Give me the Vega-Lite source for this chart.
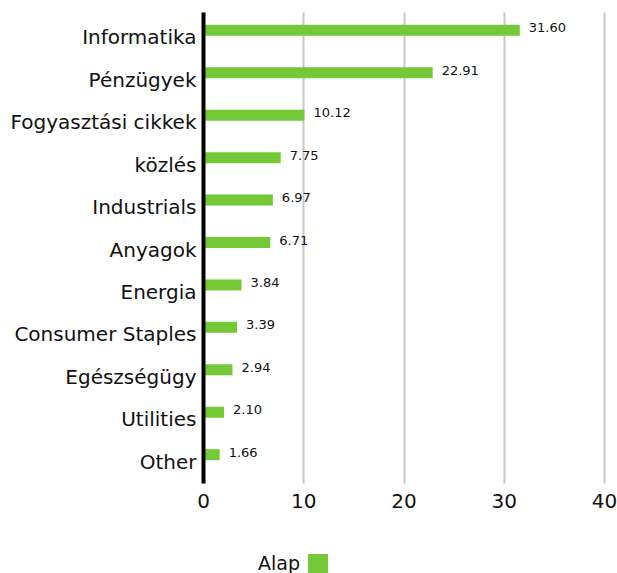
{
  "$schema": "https://vega.github.io/schema/vega-lite/v6.json",
  "autosize": "none",
  "width": 401,
  "height": 471,
  "padding": {"left": 203, "top": 12, "right": 13, "bottom": 90},
  "background": "white",
  "config": {
    "view": {"stroke": null},
    "font": "DejaVu Sans"
  },
  "data": {
    "values": [
      {"sector": "Informatika", "value": 31.60},
      {"sector": "Pénzügyek", "value": 22.91},
      {"sector": "Fogyasztási cikkek", "value": 10.12},
      {"sector": "közlés", "value": 7.75},
      {"sector": "Industrials", "value": 6.97},
      {"sector": "Anyagok", "value": 6.71},
      {"sector": "Energia", "value": 3.84},
      {"sector": "Consumer Staples", "value": 3.39},
      {"sector": "Egészségügy", "value": 2.94},
      {"sector": "Utilities", "value": 2.10},
      {"sector": "Other", "value": 1.66}
    ]
  },
  "encoding": {
    "y": {
      "field": "sector",
      "type": "nominal",
      "sort": null,
      "scale": {"paddingInner": 0, "paddingOuter": 0.05},
      "axis": {
        "title": null,
        "ticks": false,
        "labelFontSize": 20,
        "labelColor": "#111",
        "labelPadding": 7,
        "labelOffset": 3,
        "labelLimit": 300,
        "domainColor": "#000",
        "domainWidth": 4,
        "zindex": 2,
        "grid": false
      }
    },
    "x": {
      "field": "value",
      "type": "quantitative",
      "scale": {"domain": [0, 40], "nice": false},
      "axis": {
        "title": null,
        "values": [0, 10, 20, 30, 40],
        "ticks": false,
        "domain": false,
        "grid": true,
        "gridColor": "#c8c8c8",
        "gridWidth": 2,
        "labelFontSize": 20,
        "labelColor": "#111",
        "labelPadding": 8,
        "labelFlush": false,
        "zindex": 0
      }
    }
  },
  "layer": [
    {
      "mark": {"type": "bar", "size": 11, "yOffset": -5},
      "encoding": {
        "color": {
          "datum": "Alap",
          "type": "nominal",
          "scale": {"range": ["#73c936"]},
          "legend": {
            "orient": "none",
            "legendX": 55,
            "legendY": 542,
            "title": "Alap",
            "titleOrient": "left",
            "titleFontSize": 19,
            "titleFontWeight": "normal",
            "titleColor": "#111",
            "titleAnchor": "end",
            "titlePadding": 8,
            "labelExpr": "''",
            "symbolType": "square",
            "symbolSize": 400,
            "symbolStrokeWidth": 0,
            "symbolOpacity": 1
          }
        }
      }
    },
    {
      "mark": {"type": "text", "align": "left", "dx": 9, "yOffset": -7, "fontSize": 13, "color": "#111"},
      "encoding": {
        "text": {"field": "value", "type": "quantitative", "format": ".2f"}
      }
    }
  ]
}
